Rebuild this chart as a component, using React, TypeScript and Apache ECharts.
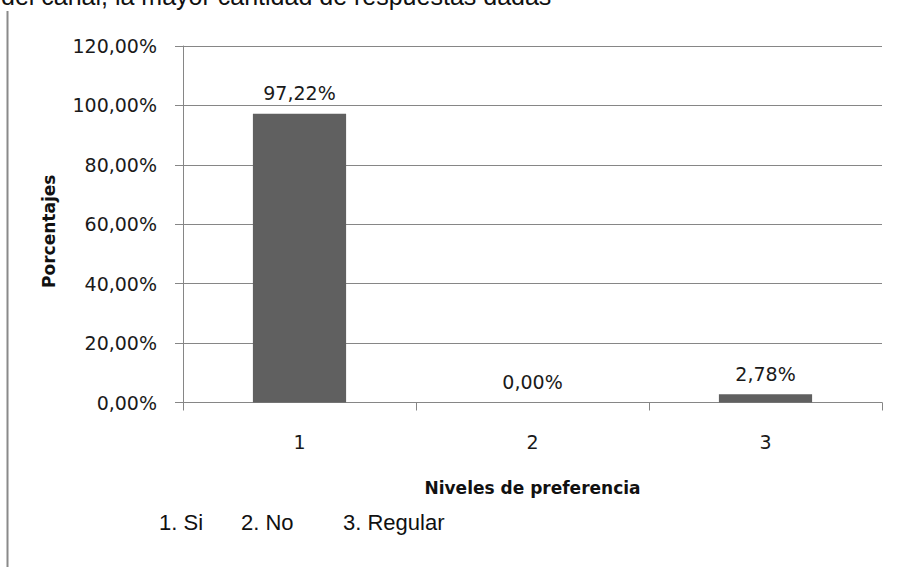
import React, { useEffect, useRef } from "react";
import * as echarts from "echarts";

const categories = ["1", "2", "3"];
const values = [97.22, 0, 2.78];
const yTicks = { min: 0, max: 120, interval: 20 };
const legendItems = ["1. Si", "2. No", "3. Regular"];
const legendX = [159, 241, 343];
const topText = "del canal, la mayor cantidad de respuestas dadas";
const xName = "Niveles de preferencia";
const yName = "Porcentajes";

const fmt = (v: number) => v.toFixed(2).replace(".", ",") + "%";

export default function App() {
  const ref = useRef<HTMLDivElement>(null);
  useEffect(() => {
    document.body.style.margin = "0";
    const chart = echarts.init(ref.current!, null, { renderer: "svg" });
    const numFont = "DejaVu Sans";
    const gray = "#868686";
    chart.setOption({
      animation: false,
      backgroundColor: "#ffffff",
      grid: { left: 183, top: 46, width: 699, height: 356.5, containLabel: false },
      xAxis: {
        type: "category",
        data: categories,
        boundaryGap: true,
        name: xName,
        nameLocation: "middle",
        nameGap: 77,
        nameTextStyle: { fontFamily: numFont, fontWeight: "bold", fontSize: 17, color: "#111" },
        axisLine: { lineStyle: { color: gray, width: 1 } },
        axisTick: { show: true, alignWithLabel: false, length: 8, lineStyle: { color: gray } },
        axisLabel: { fontFamily: numFont, fontSize: 19, color: "#1a1a1a", margin: 30 },
        splitLine: { show: false },
      },
      yAxis: {
        type: "value",
        min: yTicks.min,
        max: yTicks.max,
        interval: yTicks.interval,
        name: yName,
        nameLocation: "middle",
        nameGap: 126,
        nameRotate: 90,
        nameTextStyle: {
          fontFamily: numFont,
          fontWeight: "bold",
          fontSize: 17,
          color: "#111",
          padding: [0, 14, 0, 0],
        },
        axisLine: { show: true, lineStyle: { color: gray, width: 1 } },
        axisTick: { show: true, length: 8, lineStyle: { color: gray } },
        axisLabel: { fontFamily: numFont, fontSize: 19, color: "#1a1a1a", margin: 26, formatter: fmt },
        splitLine: { show: true, lineStyle: { color: gray, width: 1 } },
      },
      series: [
        {
          type: "bar",
          data: values,
          barWidth: "40%",
          itemStyle: { color: "#606060" },
          label: {
            show: true,
            position: "top",
            distance: 11,
            fontFamily: numFont,
            fontSize: 19,
            color: "#1a1a1a",
            formatter: (p: any) => fmt(p.value),
          },
        },
      ],
      graphic: [
        {
          type: "text",
          left: 1,
          top: -17,
          style: { text: topText, fontFamily: "Liberation Sans", fontSize: 25, fill: "#111" },
        },
        {
          type: "line",
          shape: { x1: 7.5, y1: 11, x2: 7.5, y2: 567 },
          style: { stroke: "#8a8a8a", lineWidth: 2 },
        },
        ...legendItems.map((t, i) => ({
          type: "text",
          x: legendX[i],
          y: 522,
          style: {
            text: t,
            fontFamily: "Liberation Sans",
            fontSize: 22,
            fill: "#111",
            verticalAlign: "middle",
          },
        })),
      ],
    });
    return () => chart.dispose();
  }, []);
  return <div ref={ref} style={{ width: 897, height: 567 }} />;
}
